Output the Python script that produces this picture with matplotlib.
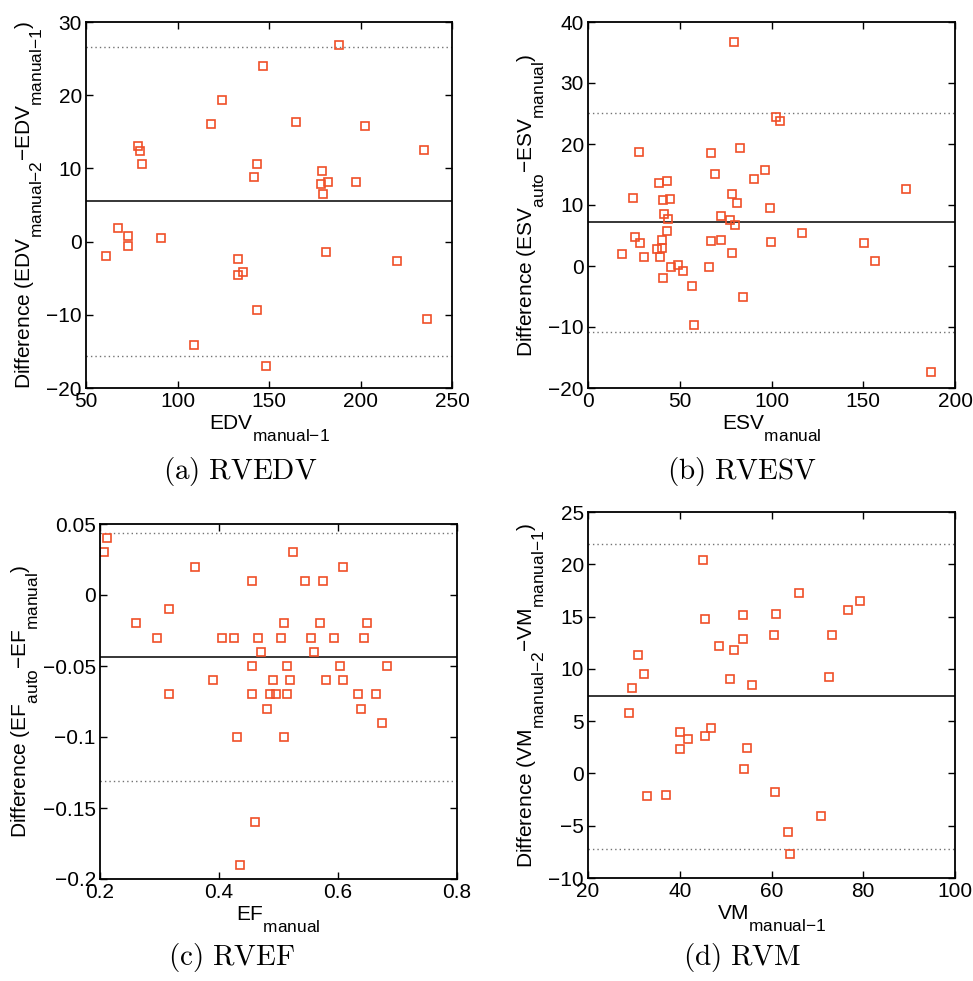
import matplotlib
matplotlib.use('Agg')
import matplotlib.pyplot as plt
import matplotlib._mathtext as mt
import numpy as np

# (a) RVEDV
edv_x = [188.4, 146.9, 124.3, 118.5, 164.9, 202.6, 78.2, 79.7, 234.7, 80.4,
         143.4, 141.6, 179.0, 178.6, 182.4, 197.4, 179.7, 67.3, 72.8, 72.8,
         91.2, 60.8, 132.9, 181.3, 220.1, 132.9, 135.8, 143.4, 236.5, 109.0,
         148.2]
edv_y = [26.8, 24.0, 19.3, 16.0, 16.4, 15.75, 13.1, 12.4, 12.5, 10.6,
         10.6, 8.8, 9.7, 7.9, 8.1, 8.1, 6.5, 1.9, 0.7, -0.6,
         0.5, -1.9, -2.4, -1.4, -2.6, -4.6, -4.2, -9.4, -10.6, -14.1,
         -17.0]
edv_lines = [5.5, 26.6, -15.6]

# (b) RVESV
esv_x = [79.7, 102.2, 104.9, 27.7, 67.2, 82.7, 96.4, 69.0, 90.5, 38.7,
         43.2, 173.2, 24.6, 41.1, 44.7, 78.5, 81.0, 99.3, 41.4, 43.6,
         72.3, 77.4, 79.9, 43.2, 25.5, 28.3, 40.1, 67.0, 72.4, 99.6,
         116.4, 150.2, 18.4, 37.4, 40.1, 30.7, 39.2, 78.3, 156.6, 45.1,
         49.3, 51.5, 65.9, 41.1, 56.6, 84.5, 57.8, 186.9]
esv_y = [36.7, 24.4, 23.7, 18.7, 18.5, 19.3, 15.7, 15.1, 14.3, 13.6,
         13.9, 12.6, 11.2, 10.9, 11.0, 11.8, 10.4, 9.5, 8.5, 7.7,
         8.2, 7.5, 6.8, 5.7, 4.7, 3.7, 4.2, 4.1, 4.2, 4.0,
         5.4, 3.7, 2.0, 2.8, 2.9, 1.5, 1.4, 2.1, 0.8, -0.1,
         0.1, -0.8, -0.2, -2.0, -3.2, -5.0, -9.7, -17.3]
esv_lines = [7.2, 25.15, -10.8]

# (c) RVEF
ef_x = [0.212, 0.207, 0.524, 0.360, 0.608, 0.455, 0.544, 0.574, 0.316, 0.261,
        0.509, 0.569, 0.648, 0.296, 0.405, 0.426, 0.465, 0.505, 0.554, 0.593,
        0.644, 0.470, 0.559, 0.455, 0.514, 0.604, 0.683, 0.390, 0.490, 0.519,
        0.579, 0.608, 0.316, 0.455, 0.485, 0.495, 0.514, 0.633, 0.664, 0.480,
        0.638, 0.674, 0.430, 0.509, 0.460, 0.435]
ef_y = [0.04, 0.03, 0.03, 0.02, 0.02, 0.01, 0.01, 0.01, -0.01, -0.02,
        -0.02, -0.02, -0.02, -0.03, -0.03, -0.03, -0.03, -0.03, -0.03, -0.03,
        -0.03, -0.04, -0.04, -0.05, -0.05, -0.05, -0.05, -0.06, -0.06, -0.06,
        -0.06, -0.06, -0.07, -0.07, -0.07, -0.07, -0.07, -0.07, -0.07, -0.08,
        -0.08, -0.09, -0.10, -0.10, -0.16, -0.19]
ef_lines = [-0.0434, 0.0438, -0.131]

# (d) RVM
vm_x = [45.0, 65.9, 79.3, 76.6, 45.5, 53.8, 61.0, 60.5, 73.1, 53.8,
        48.6, 51.9, 30.9, 32.3, 72.6, 50.9, 55.8, 29.5, 28.9, 40.1,
        46.9, 41.9, 45.6, 40.1, 54.7, 54.1, 32.8, 37.1, 60.7, 70.7,
        63.6, 64.1]
vm_y = [20.4, 17.25, 16.45, 15.6, 14.8, 15.15, 15.25, 13.2, 13.2, 12.9,
        12.2, 11.8, 11.3, 9.5, 9.2, 9.0, 8.45, 8.2, 5.8, 4.0,
        4.3, 3.3, 3.6, 2.3, 2.4, 0.4, -2.2, -2.1, -1.75, -4.1,
        -5.6, -7.7]
vm_lines = [7.4, 21.95, -7.18]

# MATLAB-ish subscripts: bigger and dropped lower than mathtext's default
mt.SHRINK_FACTOR = 0.83
mt.FontConstantsBase.sub1 = 1.1

matplotlib.rcParams.update({'font.family': 'Liberation Sans', 'font.size': 15,
                            'axes.linewidth': 1.3})

fig = plt.figure(figsize=(9.73, 9.81), dpi=100)


def sub(a, b):
    return a + '_{' + b.replace('-', '{-}') + '}'


def diff_label(a, b):
    return r'Difference $\mathregular{(' + a + '{-}' + b + ')}$'


panels = [
    # rect, x, y, lines, xlim, ylim, xticks, yticks, xlabel, ylabel, caption, caption pos
    ([86, 22, 452, 388], edv_x, edv_y, edv_lines, (50, 250), (-20, 30),
     np.arange(50, 251, 50), np.arange(-20, 31, 10),
     r'$\mathregular{' + sub('EDV', 'manual-1') + '}$',
     diff_label(sub('EDV', 'manual-2'), sub('EDV', 'manual-1')),
     '(a)\\ RVEDV', (240, 472), None),
    ([588, 22, 955, 388], esv_x, esv_y, esv_lines, (0, 200), (-20, 40),
     np.arange(0, 201, 50), np.arange(-20, 41, 10),
     r'$\mathregular{' + sub('ESV', 'manual') + '}$',
     diff_label(sub('ESV', 'auto'), sub('ESV', 'manual')),
     '(b)\\ RVESV', (742, 472), None),
    ([100, 524, 457, 879], ef_x, ef_y, ef_lines, (0.2, 0.8), (-0.2, 0.05),
     [0.2, 0.4, 0.6, 0.8], [-0.2, -0.15, -0.1, -0.05, 0, 0.05],
     r'$\mathregular{' + sub('EF', 'manual') + '}$',
     diff_label(sub('EF', 'auto'), sub('EF', 'manual')),
     '(c)\\ RVEF', (232, 958),
     (['0.2', '0.4', '0.6', '0.8'],
      ['\u22120.2', '\u22120.15', '\u22120.1', '\u22120.05', '0', '0.05'])),
    ([588, 512, 955, 878], vm_x, vm_y, vm_lines, (20, 100), (-10, 25),
     np.arange(20, 101, 20), np.arange(-10, 26, 5),
     r'$\mathregular{' + sub('VM', 'manual-1') + '}$',
     diff_label(sub('VM', 'manual-2'), sub('VM', 'manual-1')),
     '(d)\\ RVM', (742, 958), None),
]

W, H = 973.0, 981.0
for (rect, x, y, lines, xlim, ylim, xt, yt, xl, yl, cap, cpos, tl) in panels:
    l, t, r, b = rect
    ax = fig.add_axes([l / W, 1 - b / H, (r - l) / W, (b - t) / H])
    ax.axhline(lines[0], color='black', lw=1.1, zorder=1)
    ax.axhline(lines[1], color='0.45', lw=1.0, ls=(0, (1, 2.2)), zorder=1)
    ax.axhline(lines[2], color='0.45', lw=1.0, ls=(0, (1, 2.2)), zorder=1)
    ax.plot(x, y, 's', ms=6, mfc='none', mec='#f04f28', mew=1.2, zorder=2)
    ax.set_xlim(xlim)
    ax.set_ylim(ylim)
    ax.set_xticks(xt)
    ax.set_yticks(yt)
    if tl is not None:
        ax.set_xticklabels(tl[0])
        ax.set_yticklabels(tl[1])
    ax.tick_params(direction='in', top=True, right=True, length=5, width=1.0,
                   pad=3)
    ax.set_xlabel(xl, labelpad=2)
    ax.set_ylabel(yl, labelpad=1)
    fig.text(cpos[0] / W, 1 - cpos[1] / H, '$\\mathrm{' + cap + '}$',
             ha='center', va='center', fontsize=21, math_fontfamily='cm')

fig.savefig('out.png', dpi=100)
